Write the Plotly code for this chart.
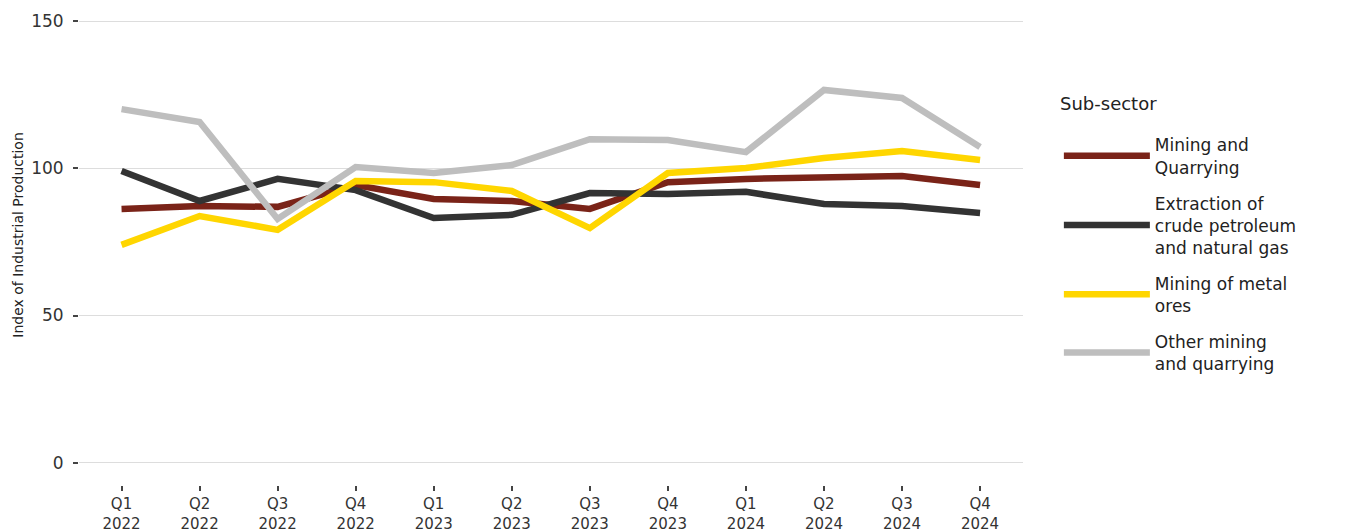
import plotly.graph_objects as go

quarters = ["Q1<br>2022", "Q2<br>2022", "Q3<br>2022", "Q4<br>2022",
            "Q1<br>2023", "Q2<br>2023", "Q3<br>2023", "Q4<br>2023",
            "Q1<br>2024", "Q2<br>2024", "Q3<br>2024", "Q4<br>2024"]

mining_quarrying = [86.2, 87.2, 86.9, 94.3, 89.6, 88.9, 86.2, 95.3, 96.4, 96.7, 97.4, 94.3]
crude_petroleum = [99.1, 88.9, 96.4, 92.6, 83.1, 84.2, 91.6, 91.3, 92.0, 87.9, 87.2, 84.8]
metal_ores = [74.0, 83.8, 79.1, 95.7, 95.3, 92.3, 79.7, 98.4, 100.1, 103.5, 105.9, 102.8]
other_mining = [120.1, 115.7, 82.8, 100.4, 98.4, 101.1, 109.9, 109.6, 105.5, 126.6, 123.9, 107.2]

series_names = ["Mining and<br>Quarrying",
                "Extraction of<br>crude petroleum<br>and natural gas",
                "Mining of metal<br>ores",
                "Other mining<br>and quarrying"]
series_values = [mining_quarrying, crude_petroleum, metal_ores, other_mining]
series_colors = ["#7A2318", "#333333", "#FFD600", "#BEBEBE"]

y_ticks = [0, 50, 100, 150]

FONT = "DejaVu Sans"

fig = go.Figure()
x_idx = list(range(len(quarters)))
for name, vals, col in zip(series_names, series_values, series_colors):
    fig.add_trace(go.Scatter(
        x=x_idx, y=vals, name=name, mode="lines",
        legendgroup=name,
        line=dict(color=col, width=6.5),
    ))

fig.update_layout(
    width=1351, height=532,
    margin=dict(l=71, r=336, t=0, b=55),
    paper_bgcolor="white", plot_bgcolor="white",
    font=dict(family=FONT, size=16, color="#222222"),
    showlegend=True,
    legend=dict(
        x=1.038, xanchor="left", y=0.75, yanchor="top",
        font=dict(size=17, color="#222222"),
        tracegroupgap=11,
        itemwidth=86,
        traceorder="grouped",
    ),
    xaxis=dict(
        tickmode="array", tickvals=x_idx, ticktext=quarters,
        range=[-0.545, len(quarters) - 0.45],
        showgrid=False, zeroline=False, showline=False,
        ticks="outside", ticklen=5, tickwidth=1.5, tickcolor="#444444",
        tickfont=dict(size=15, color="#333333", family=FONT),
    ),
    yaxis=dict(
        range=[-7.57, 154.45],
        tickmode="array", tickvals=y_ticks,
        showgrid=True, gridcolor="#DDDDDD", gridwidth=1.2,
        zeroline=False, showline=False,
        ticks="outside", ticklen=5, tickwidth=1.5, tickcolor="#444444",
        ticklabelstandoff=6,
        tickfont=dict(size=17, color="#333333", family=FONT),
    ),
    annotations=[
        dict(
            text="Index of Industrial Production",
            xref="paper", yref="paper", x=-0.0655, y=0.525,
            xanchor="center", yanchor="middle", textangle=-90, showarrow=False,
            font=dict(size=14, color="#222222", family=FONT),
        ),
        dict(
            text="Sub-sector",
            xref="paper", yref="paper", x=1.037, y=0.799,
            xanchor="left", yanchor="middle", showarrow=False,
            font=dict(size=18, color="#222222", family=FONT),
        ),
    ],
)

fig.write_html("out.html")
